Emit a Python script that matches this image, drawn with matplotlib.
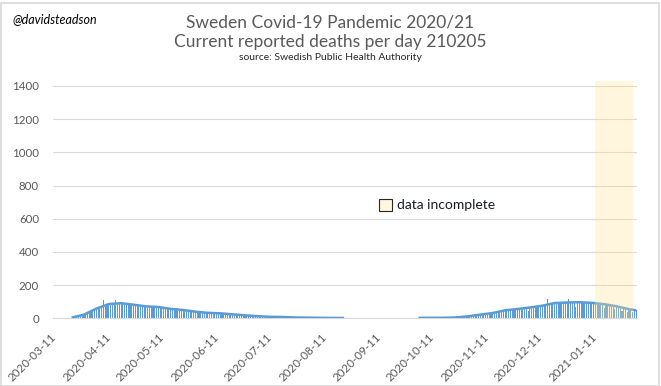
import numpy as np
import pandas as pd
import matplotlib
matplotlib.use("Agg")
import matplotlib.pyplot as plt
import matplotlib.dates as mdates
from matplotlib.patches import Patch, Rectangle

# ---------------- data ----------------
start_date = "2020-03-11"
daily_deaths = [
    1, 0, 1, 2, 1, 2, 3,
    2, 3, 4, 4, 5, 6, 7,
    10, 14, 18, 22, 26, 30, 36,
    42, 48, 55, 58, 62, 70, 72,
    112, 78, 84, 86, 88, 82, 90,
    112, 90, 92, 88, 94, 90, 86,
    84, 86, 82, 80, 84, 78, 80,
    74, 72, 74, 70, 72, 70, 72,
    70, 68, 70, 66, 68, 64, 70,
    60, 58, 56, 58, 54, 58, 55,
    52, 50, 52, 48, 50, 46, 50,
    44, 42, 40, 42, 38, 40, 36,
    35, 34, 33, 32, 34, 30, 33,
    31, 30, 28, 31, 29, 30, 28,
    26, 25, 24, 25, 22, 24, 22,
    20, 19, 18, 19, 17, 18, 16,
    14, 13, 14, 12, 13, 12, 13,
    10, 9, 10, 8, 9, 8, 9,
    8, 8, 7, 8, 9, 7, 8,
    6, 5, 5, 6, 4, 5, 5,
    4, 4, 3, 5, 4, 3, 4,
    3, 3, 2, 3, 4, 3, 3,
    2, 2, 3, 2, 2, 2, 2,
    2, 2, 1, 2, 2, 1, 1,
    1, 1, 1, 0, 1, 1, 0,
    1, 0, 1, 1, 0, 1, 1,
    0, 1, 1, 0, 1, 1, 0,
    1, 1, 0, 1, 1, 0, 1,
    1, 0, 1, 1, 1, 0, 1,
    1, 2, 1, 2, 2, 1, 2,
    2, 3, 2, 3, 2, 3, 2,
    3, 3, 4, 3, 2, 4, 3,
    4, 5, 4, 6, 5, 5, 6,
    8, 10, 11, 12, 13, 14, 15,
    16, 18, 20, 22, 24, 25, 27,
    28, 30, 32, 31, 34, 33, 36,
    38, 42, 46, 48, 52, 54, 55,
    54, 56, 55, 58, 52, 57, 58,
    60, 64, 42, 68, 66, 70, 68,
    66, 70, 68, 72, 76, 80, 117,
    90, 92, 94, 96, 88, 94, 92,
    94, 96, 92, 98, 118, 96, 98,
    98, 70, 100, 96, 102, 98, 96,
    96, 92, 94, 90, 95, 92, 88,
    88, 86, 84, 60, 86, 82, 84,
    80, 76, 54, 74, 70, 68, 46,
    62, 58, 40, 56, 54, 36, 52,
    50,
]
# weekly average (plotted at mid-week), NaN = no line drawn
weekly_avg = [np.nan, 4, 22, 58, 86, 91, 82, 72, 68, 57, 50, 40, 33, 30, 24, 18,
              13, 9, 8, 5, 4, 3, 2, 2, np.nan, np.nan, np.nan, np.nan, np.nan,
              3, 3, 3, 5, 12, 22, 32, 48, 56, 65, 76, 92, 95, 97, 93, 85, 72, 55]
last_avg_date = "2021-02-03"
last_avg = 48
incomplete_start = "2021-01-11"
incomplete_end = "2021-02-01"
y_ticks = [0, 200, 400, 600, 800, 1000, 1200, 1400]

title1 = "Sweden Covid-19 Pandemic 2020/21"
title2 = "Current reported deaths per day 210205"
source = "source: Swedish Public Health Authority"
handle_text = "@davidsteadson"
legend_label = "data incomplete"

# ---------------- plot ----------------
BLUE = "#5B9BD5"
GRID = "#D9D9D9"
TXT = "#595959"
FONT = ["Lato", "DejaVu Sans"]
plt.rcParams["font.family"] = FONT

W, H = 661, 386
fig = plt.figure(figsize=(W / 100, H / 100), dpi=100)
ax = fig.add_axes([53 / W, 1 - 318.3 / H, (637 - 53) / W, (318.3 - 81) / H])

start = pd.Timestamp(start_date)
dates = pd.date_range(start, periods=len(daily_deaths), freq="D")
week_mid = pd.date_range(start + pd.Timedelta(days=3), periods=len(weekly_avg), freq="7D")
line_dates = list(week_mid) + [pd.Timestamp(last_avg_date)]
line_vals = list(weekly_avg) + [last_avg]

ax.bar(dates, daily_deaths, width=0.62, color=BLUE, linewidth=0, zorder=2,
       antialiased=False)
ax.plot(line_dates, line_vals, color=BLUE, lw=1.8, zorder=3, solid_capstyle="butt")

half = pd.Timedelta(hours=12)
ax.axvspan(pd.Timestamp(incomplete_start) - half, pd.Timestamp(incomplete_end) + half,
           ymin=0, ymax=1, facecolor="#FFE291", alpha=0.3, lw=0, zorder=4)

ax.set_xlim(dates[0] - half, dates[-1] + half)
ax.set_ylim(0, 1430)
ax.set_yticks(y_ticks)
ax.grid(axis="y", color=GRID, lw=0.8, zorder=0)
ax.set_axisbelow(True)
for s in ["top", "right", "left"]:
    ax.spines[s].set_visible(False)
ax.spines["bottom"].set_color(GRID)
ax.spines["bottom"].set_linewidth(0.8)
ax.spines["bottom"].set_zorder(1)

ax.xaxis.set_major_locator(mdates.MonthLocator(bymonthday=11))
ax.xaxis.set_major_formatter(mdates.DateFormatter("%Y-%m-%d"))
ax.tick_params(axis="both", length=0, labelsize=8.3, labelcolor=TXT)
ax.tick_params(axis="y", pad=10)
ax.tick_params(axis="x", pad=12)
for lab in ax.get_xticklabels():
    lab.set_rotation(45)
    lab.set_ha("right")
    lab.set_va("center")
    lab.set_rotation_mode("anchor")

# legend
leg_handle = Patch(facecolor="#FFF6DE", edgecolor="#262626", lw=0.8)
ax.legend([leg_handle], [legend_label], loc="center left",
          bbox_to_anchor=(366 / W, 1 - 205 / H), bbox_transform=fig.transFigure,
          frameon=False, handlelength=1.0, handleheight=1.0, handletextpad=0.3,
          prop={"size": 10}, labelcolor="#1a1a2e")

# texts
fig.text(12 / W, 1 - 19 / H, handle_text, style="italic", fontsize=9, color="black",
         ha="left", va="center")
fig.text(330 / W, 1 - 22 / H, title1, fontsize=12.5, color=TXT, ha="center",
         va="center")
fig.text(330 / W, 1 - 42 / H, title2, fontsize=12.5, color=TXT, ha="center",
         va="center")
fig.text(330 / W, 1 - 58 / H, source, fontsize=7.5, color="#262626", ha="center", va="center")

fig.patches.append(Rectangle((0.5 / W, 0.5 / H), 1 - 3 / W, 1 - 3 / H, transform=fig.transFigure,
                             fill=False, edgecolor=GRID, lw=1.2))

fig.savefig("out.png", dpi=100)
